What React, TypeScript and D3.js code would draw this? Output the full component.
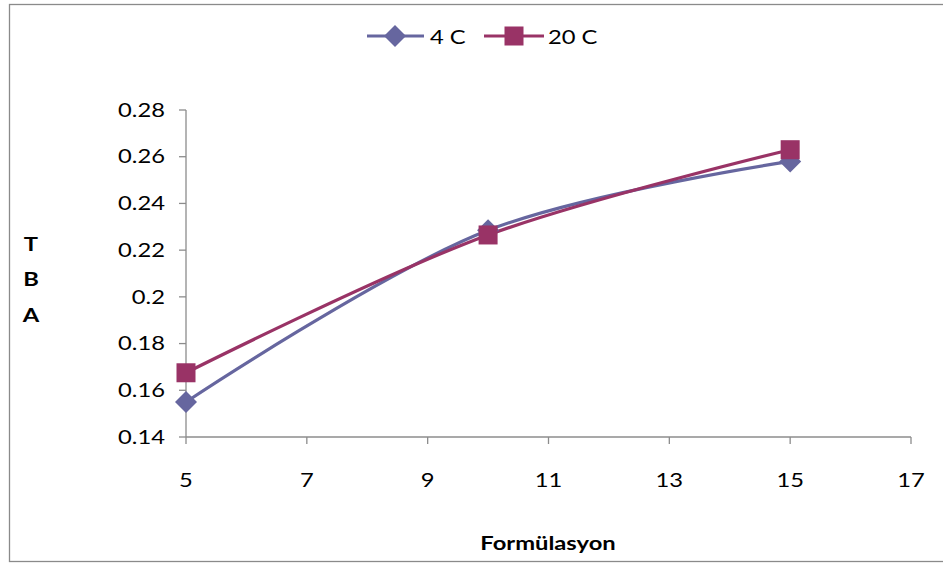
import React from "react";
import * as d3 from "d3";

const formulations = [5, 10, 15];
const series4C = [0.155, 0.2285, 0.258];
const series20C = [0.1675, 0.2265, 0.263];
const seriesNames = ["4 C", "20 C"];
const xTicks = [5, 7, 9, 11, 13, 15, 17];
const yTicks = [0.14, 0.16, 0.18, 0.2, 0.22, 0.24, 0.26, 0.28];
const yTitleLetters = ["T", "B", "A"];

const W = 943;
const H = 563;
const FONT = "Lato, 'Open Sans', sans-serif";
const C1 = "#66669f";
const C2 = "#993366";
const AXIS = "#8c8c8c";
const STRETCH = 1.25;

type LabelProps = {
  x: number;
  y: number;
  anchor?: "start" | "middle" | "end";
  bold?: boolean;
  children: React.ReactNode;
};

// Text drawn with a slightly widened face
function Label({ x, y, anchor = "start", bold = false, children }: LabelProps) {
  return (
    <text
      transform={`translate(${x},${y}) scale(${STRETCH},1)`}
      dy="0.35em"
      textAnchor={anchor}
      fontFamily={FONT}
      fontWeight={bold ? "bold" : "normal"}
      fontSize={19}
      fill="#000"
    >
      {children}
    </text>
  );
}

export default function App() {
  const x = d3.scaleLinear().domain([5, 17]).range([186, 911]);
  const y = d3.scaleLinear().domain([0.14, 0.28]).range([437, 110]);
  const line = d3
    .line<[number, number]>()
    .x((d) => x(d[0]))
    .y((d) => y(d[1]))
    .curve(d3.curveCatmullRom.alpha(0.5));

  const pts1 = formulations.map((f, i) => [f, series4C[i]] as [number, number]);
  const pts2 = formulations.map((f, i) => [f, series20C[i]] as [number, number]);

  const diamond = (cx: number, cy: number, r: number) =>
    `M${cx},${cy - r}L${cx + r},${cy}L${cx},${cy + r}L${cx - r},${cy}Z`;

  return (
    <svg
      width={W}
      height={H}
      style={{ position: "absolute", left: 0, top: 0, background: "#fff" }}
    >
      <rect x={0} y={0} width={W} height={H} fill="#fff" />
      <rect x={9.5} y={4.5} width={W + 10} height={557} fill="none" stroke="#8a8a8a" strokeWidth={1.3} />

      {/* axes */}
      <line x1={x(5)} x2={x(5)} y1={y(0.28)} y2={y(0.14)} stroke={AXIS} strokeWidth={1.3} />
      <line x1={x(5)} x2={x(17)} y1={y(0.14)} y2={y(0.14)} stroke={AXIS} strokeWidth={1.3} />
      {yTicks.map((t) => (
        <g key={"y" + t}>
          <line x1={x(5) - 7} x2={x(5)} y1={y(t)} y2={y(t)} stroke={AXIS} strokeWidth={1.3} />
          <Label x={165} y={y(t)} anchor="end">
            {String(+t.toFixed(2))}
          </Label>
        </g>
      ))}
      {xTicks.map((t) => (
        <g key={"x" + t}>
          <line x1={x(t)} x2={x(t)} y1={y(0.14)} y2={y(0.14) + 7} stroke={AXIS} strokeWidth={1.3} />
          <Label x={x(t)} y={480} anchor="middle">
            {t}
          </Label>
        </g>
      ))}

      {/* axis titles */}
      <Label x={548} y={543} anchor="middle" bold>
        Formülasyon
      </Label>
      {yTitleLetters.map((l, i) => (
        <Label key={l} x={31} y={244 + i * 35.5} anchor="middle" bold>
          {l}
        </Label>
      ))}

      {/* series */}
      <path d={line(pts1) || ""} fill="none" stroke={C1} strokeWidth={3.2} />
      <path d={line(pts2) || ""} fill="none" stroke={C2} strokeWidth={3.2} />
      {pts1.map((p, i) => (
        <path key={"d" + i} d={diamond(x(p[0]), y(p[1]), 11)} fill={C1} />
      ))}
      {pts2.map((p, i) => (
        <rect key={"s" + i} x={x(p[0]) - 9.5} y={y(p[1]) - 9.5} width={19} height={19} fill={C2} />
      ))}

      {/* legend */}
      <line x1={367} x2={424} y1={36} y2={36} stroke={C1} strokeWidth={3.2} />
      <path d={diamond(395, 36, 11)} fill={C1} />
      <Label x={430} y={37}>
        {seriesNames[0]}
      </Label>
      <line x1={484} x2={544} y1={36} y2={36} stroke={C2} strokeWidth={3.2} />
      <rect x={504.5} y={26.5} width={19} height={19} fill={C2} />
      <Label x={548} y={37}>
        {seriesNames[1]}
      </Label>
    </svg>
  );
}
